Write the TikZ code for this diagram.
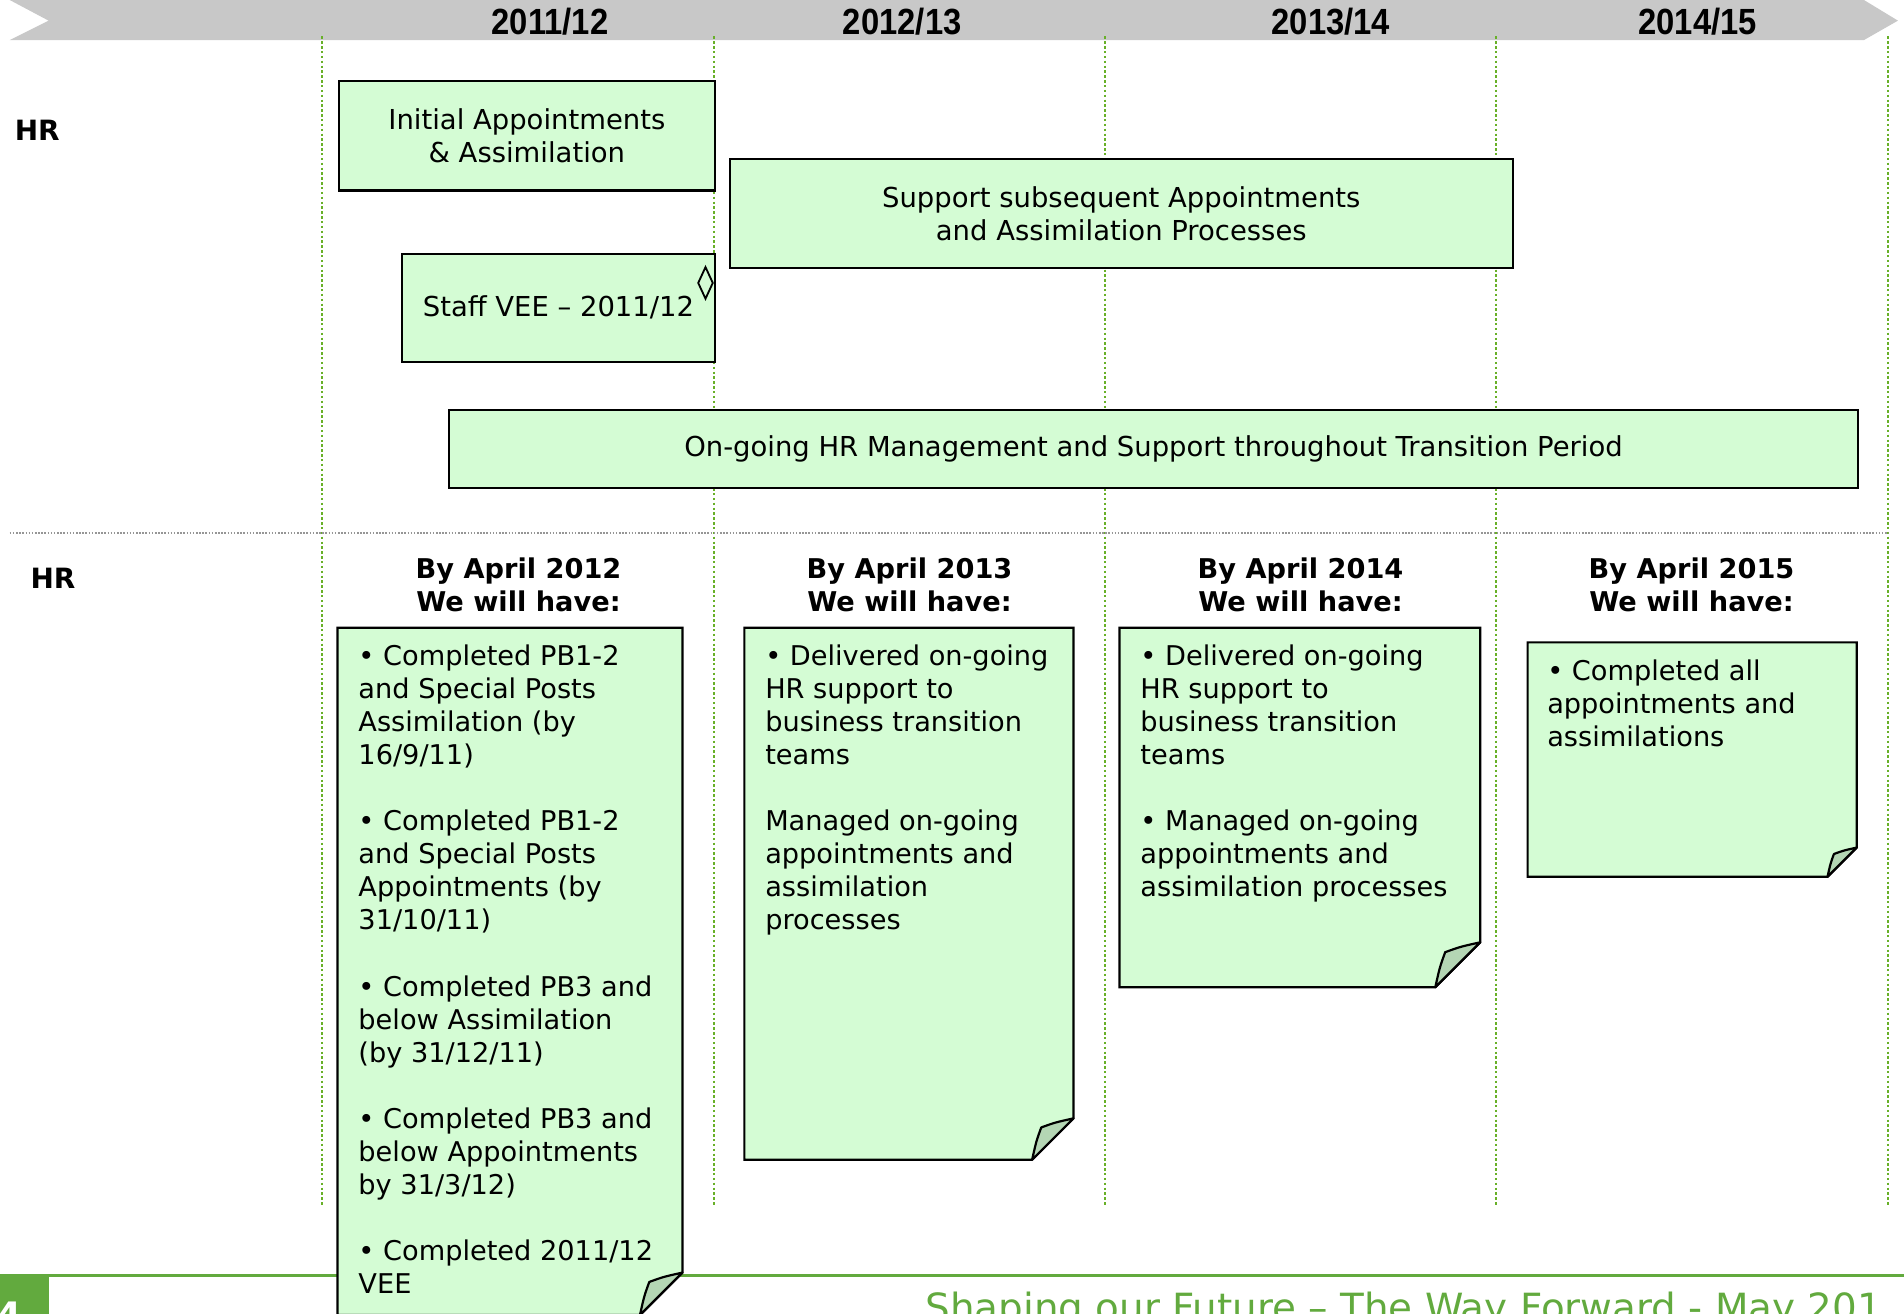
\documentclass[tikz,border=0pt]{standalone}
\usepackage{fontspec}
\setmainfont{DejaVu Sans}
\newfontfamily\yearfont{Liberation Sans}
\usetikzlibrary{calc}

\definecolor{notefill}{RGB}{212,252,212}
\definecolor{flapfill}{RGB}{180,214,180}
\definecolor{gridgreen}{RGB}{104,176,40}
\definecolor{footgreen}{RGB}{98,170,62}
\definecolor{bargrey}{RGB}{200,200,200}
\definecolor{sepgrey}{RGB}{150,150,150}

% sticky note with a curled bottom-right corner
\newcommand\stickynote[5]{% x1,y1,x2,y2,fold
  \draw[line width=1.8pt, fill=notefill, line join=miter]
    (#1,#2) -- (#3,#2) -- (#3,#4-#5) -- (#3-#5,#4) -- (#1,#4) -- cycle;
  \draw[line width=1.8pt, fill=flapfill, line join=round]
    (#3,#4-#5) .. controls (#3-0.45*#5,#4-0.9*#5) .. (#3-0.78*#5,#4-0.78*#5)
    .. controls (#3-0.9*#5,#4-0.45*#5) .. (#3-#5,#4) -- cycle;
}

\begin{document}
\begin{tikzpicture}[x=1pt,y=-1pt,
  tbox/.style={draw, line width=1.8pt, fill=notefill, inner sep=0pt,
    align=center, anchor=north west, font=\fontsize{22.6}{27.2}\selectfont},
  notetext/.style={anchor=north west, align=left, inner sep=0pt,
    font=\fontsize{22.4}{27.2}\selectfont},
  heading/.style={align=center, inner sep=0pt,
    font=\bfseries\fontsize{22.4}{27.2}\selectfont},
  rowlabel/.style={anchor=west, inner sep=0pt,
    font=\bfseries\fontsize{23}{27}\selectfont},
  yearlabel/.style={inner sep=0pt, font=\yearfont\bfseries\fontsize{30}{32}\selectfont},
  gridline/.style={gridgreen, line width=2pt, dash pattern=on 2pt off 2pt},
  sepline/.style={sepgrey, line width=1.3pt, dash pattern=on 1.3pt off 1.3pt}]

\useasboundingbox (0,0) rectangle (1568,1082);
\clip (0,0) rectangle (1568,1082);

% timeline header
\fill[bargrey] (8,0) -- (1535,0) -- (1563,17) -- (1535,33) -- (8,33) -- (40,17) -- cycle;
\node[yearlabel] (y1) at (453,18) {\scalebox{0.9}[1]{2011/12}};
\node[yearlabel] (y2) at (743,18) {\scalebox{0.9}[1]{2012/13}};
\node[yearlabel] (y3) at (1096,18) {\scalebox{0.9}[1]{2013/14}};
\node[yearlabel] (y4) at (1398,18) {\scalebox{0.9}[1]{2014/15}};

% year boundaries
\foreach \gx in {265,588,910,1232,1555}
  \draw[gridline] (\gx,30) -- (\gx,993);

% section separator
\draw[sepline] (8,439) -- (1555,439);

% row labels
\node[rowlabel] (hrtop) at (12,107) {HR};
\node[rowlabel] (hrbot) at (25,476) {HR};

% activity bars
\node[tbox, minimum width=310pt, minimum height=90pt] (initapp) at (278,66)
  {Initial Appointments\\ \& Assimilation};
\node[tbox, minimum width=645pt, minimum height=90pt] (support) at (600,130)
  {Support subsequent Appointments\\ and Assimilation Processes};
\node[tbox, minimum width=258pt, minimum height=89pt] (vee) at (330,208)
  {Staff VEE – 2011/12};
\draw[line width=1.5pt, fill=notefill] (581,220) -- (587,233) -- (581,246) -- (575,233) -- cycle;
\node[tbox, minimum width=1160pt, minimum height=64pt] (ongoing) at (369,337)
  {On-going HR Management and Support throughout Transition Period};

% milestone headings
\node[heading] (h12) at (427,482) {By April 2012\\We will have:};
\node[heading] (h13) at (749,482) {By April 2013\\We will have:};
\node[heading] (h14) at (1071,482) {By April 2014\\We will have:};
\node[heading] (h15) at (1393,482) {By April 2015\\We will have:};

% footer
\draw[footgreen, line width=2.5pt] (0,1050) -- (1568,1050);
\fill[footgreen] (0,1050) rectangle (40,1082);
\node[anchor=base west, inner sep=0pt, text=white,
  font=\bfseries\fontsize{30}{32}\selectfont] (pageno) at (-3,1094) {4};
\node[anchor=base west, inner sep=0pt, text=footgreen,
  font=\fontsize{32}{34}\selectfont] (foot) at (762,1088)
  {Shaping our Future – The Way Forward - May 201};

% milestone notes
\stickynote{278}{517}{562}{1083}{35}
\node[notetext] (n12) at (295,531)
  {• Completed PB1-2\\and Special Posts\\Assimilation (by\\16/9/11)\\[27.2pt]
   • Completed PB1-2\\and Special Posts\\Appointments (by\\31/10/11)\\[27.2pt]
   • Completed PB3 and\\below Assimilation\\(by 31/12/11)\\[27.2pt]
   • Completed PB3 and\\below Appointments\\by 31/3/12)\\[27.2pt]
   • Completed 2011/12\\VEE};

\stickynote{613}{517}{884}{955}{34}
\node[notetext] (n13) at (630,531)
  {• Delivered on-going\\HR support to\\business transition\\teams\\[27.2pt]
   Managed on-going\\appointments and\\assimilation\\processes};

\stickynote{922}{517}{1219}{813}{37}
\node[notetext] (n14) at (939,531)
  {• Delivered on-going\\HR support to\\business transition\\teams\\[27.2pt]
   • Managed on-going\\appointments and\\assimilation processes};

\stickynote{1258}{529}{1529}{722}{24}
\node[notetext] (n15) at (1274,543)
  {• Completed all\\appointments and\\assimilations};

\end{tikzpicture}
\end{document}
